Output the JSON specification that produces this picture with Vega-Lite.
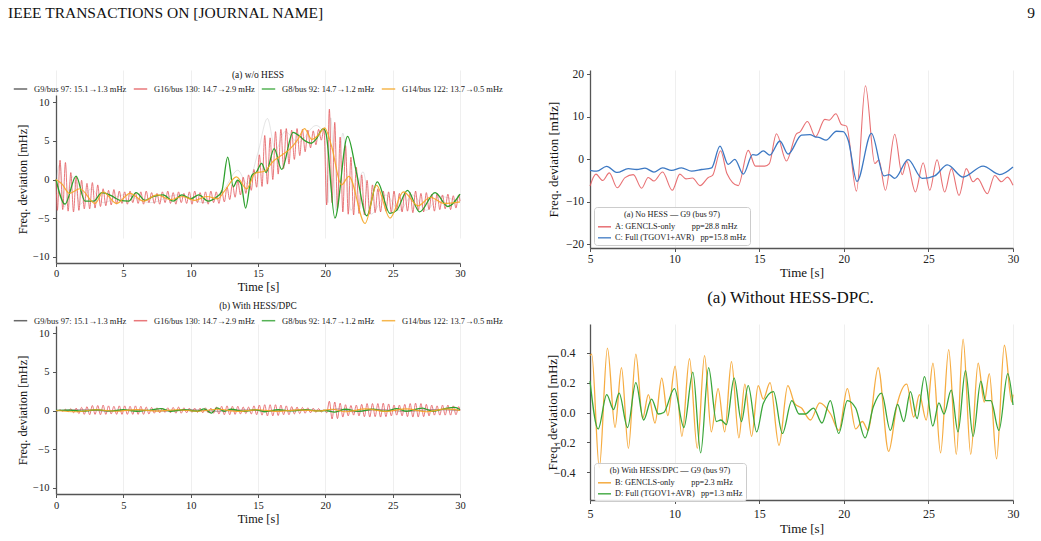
{
  "$schema": "https://vega.github.io/schema/vega-lite/v6.json",
  "background": "white",
  "padding": {"left": 8, "top": 0, "right": 4, "bottom": 4},
  "columns": 2,
  "bounds": "flush",
  "align": "none",
  "spacing": {"row": 61, "column": 130},
  "resolve": {"scale": {"color": "independent"}, "legend": {"color": "independent"}},
  "config": {
    "font": "Liberation Serif",
    "view": {"stroke": null},
    "axis": {"domainColor": "#555555", "domainWidth": 1.3, "tickColor": "#555555", "tickSize": 3.5, "tickWidth": 1, "gridColor": "#ebebeb", "gridWidth": 0.8, "labelColor": "#222222", "titleColor": "#111111", "titleFontWeight": "normal", "labelFont": "Liberation Serif", "titleFont": "Liberation Serif", "labelFlush": false, "labelOverlap": false},
    "legend": {"labelFont": "Liberation Serif", "titleFont": "Liberation Serif", "labelColor": "#222222", "titleColor": "#222222"},
    "title": {"font": "Liberation Serif", "fontWeight": "normal", "color": "#111111", "frame": "group"},
    "line": {"interpolate": "monotone", "clip": true}
  },
  "datasets": {
    "lt_g9": [{"t":0,"v":0},{"t":0.3,"v":2.0},{"t":0.6,"v":-3.6},{"t":1.2,"v":0.4},{"t":1.8,"v":-3.2},{"t":2.6,"v":-1.2},{"t":3.5,"v":-3.0},{"t":5,"v":-2.0},{"t":7,"v":-3.0},{"t":9,"v":-2.0},{"t":11,"v":-3.0},{"t":12.5,"v":-1.2},{"t":13.5,"v":1.2},{"t":14.2,"v":-0.6},{"t":15.0,"v":3.5},{"t":15.7,"v":7.9},{"t":16.3,"v":3.8},{"t":17.0,"v":6.2},{"t":18.0,"v":4.8},{"t":19.3,"v":7.0},{"t":19.9,"v":6.0},{"t":20.2,"v":-3.0},{"t":20.4,"v":8.0},{"t":20.8,"v":-4.0},{"t":21.3,"v":6.0},{"t":21.9,"v":-4.0},{"t":22.8,"v":1.0},{"t":23.4,"v":-4.5},{"t":24.5,"v":-2.0},{"t":25.5,"v":-4.0},{"t":26.5,"v":-2.0},{"t":27.5,"v":-4.0},{"t":28.5,"v":-2.2},{"t":30,"v":-3.0}],
    "lt_g16": [{"t":0,"v":0},{"t":0.1,"v":-4.0},{"t":0.3,"v":2.5},{"t":0.5,"v":-3.9},{"t":0.7,"v":2.2},{"t":0.9,"v":-4.1},{"t":1.1,"v":0.9},{"t":1.3,"v":-4.2},{"t":1.5,"v":0.4},{"t":1.7,"v":-4.0},{"t":1.9,"v":-0.1},{"t":2.1,"v":-3.8},{"t":2.3,"v":-0.5},{"t":2.5,"v":-3.8},{"t":2.7,"v":-0.4},{"t":2.9,"v":-3.7},{"t":3.1,"v":-0.7},{"t":3.3,"v":-3.5},{"t":3.5,"v":-1.2},{"t":3.7,"v":-3.4},{"t":3.9,"v":-1.4},{"t":4.1,"v":-3.3},{"t":4.3,"v":-1.3},{"t":4.5,"v":-3.2},{"t":4.7,"v":-1.5},{"t":4.9,"v":-3.1},{"t":5.1,"v":-1.6},{"t":5.3,"v":-3.2},{"t":5.5,"v":-1.5},{"t":5.7,"v":-3.0},{"t":5.9,"v":-1.7},{"t":6.1,"v":-3.1},{"t":6.3,"v":-1.6},{"t":6.5,"v":-3.2},{"t":6.7,"v":-1.5},{"t":6.9,"v":-3.0},{"t":7.1,"v":-1.7},{"t":7.3,"v":-3.1},{"t":7.5,"v":-1.8},{"t":7.7,"v":-3.2},{"t":7.9,"v":-1.6},{"t":8.1,"v":-3.0},{"t":8.3,"v":-1.5},{"t":8.5,"v":-3.1},{"t":8.7,"v":-1.7},{"t":8.9,"v":-3.2},{"t":9.1,"v":-1.6},{"t":9.3,"v":-3.0},{"t":9.5,"v":-1.8},{"t":9.7,"v":-3.1},{"t":9.9,"v":-1.6},{"t":10.1,"v":-3.2},{"t":10.3,"v":-1.5},{"t":10.5,"v":-3.0},{"t":10.7,"v":-1.7},{"t":10.9,"v":-3.1},{"t":11.1,"v":-1.6},{"t":11.3,"v":-3.2},{"t":11.5,"v":-1.5},{"t":11.7,"v":-3.0},{"t":11.9,"v":-1.6},{"t":12.1,"v":-3.1},{"t":12.3,"v":-1.4},{"t":12.5,"v":-2.9},{"t":12.7,"v":-1.0},{"t":12.9,"v":-2.6},{"t":13.1,"v":-0.6},{"t":13.3,"v":-2.3},{"t":13.5,"v":-0.2},{"t":13.7,"v":-2.0},{"t":13.9,"v":0.3},{"t":14.1,"v":-1.8},{"t":14.3,"v":0.6},{"t":14.5,"v":-1.4},{"t":14.7,"v":1.3},{"t":14.9,"v":-1.0},{"t":15.1,"v":3.2},{"t":15.3,"v":-0.9},{"t":15.5,"v":5.7},{"t":15.7,"v":-0.6},{"t":15.9,"v":5.4},{"t":16.1,"v":0.0},{"t":16.3,"v":6.2},{"t":16.5,"v":0.7},{"t":16.7,"v":6.5},{"t":16.9,"v":1.4},{"t":17.1,"v":6.6},{"t":17.3,"v":2.0},{"t":17.5,"v":6.4},{"t":17.7,"v":2.6},{"t":17.9,"v":6.6},{"t":18.1,"v":3.1},{"t":18.3,"v":6.5},{"t":18.5,"v":3.6},{"t":18.7,"v":6.4},{"t":18.9,"v":4.1},{"t":19.1,"v":6.3},{"t":19.3,"v":4.5},{"t":19.5,"v":6.5},{"t":19.7,"v":5.1},{"t":19.9,"v":6.6},{"t":20.1,"v":-3.3},{"t":20.3,"v":9.1},{"t":20.5,"v":-3.0},{"t":20.7,"v":7.4},{"t":20.9,"v":-3.8},{"t":21.1,"v":5.5},{"t":21.3,"v":-4.2},{"t":21.5,"v":4.4},{"t":21.7,"v":-4.5},{"t":21.9,"v":2.9},{"t":22.1,"v":-4.6},{"t":22.3,"v":1.6},{"t":22.5,"v":-4.4},{"t":22.7,"v":0.6},{"t":22.9,"v":-4.6},{"t":23.1,"v":-0.1},{"t":23.3,"v":-4.5},{"t":23.5,"v":-0.7},{"t":23.7,"v":-4.3},{"t":23.9,"v":-1.2},{"t":24.1,"v":-4.2},{"t":24.3,"v":-1.5},{"t":24.5,"v":-4.1},{"t":24.7,"v":-1.6},{"t":24.9,"v":-4.3},{"t":25.1,"v":-1.5},{"t":25.3,"v":-4.0},{"t":25.5,"v":-1.8},{"t":25.7,"v":-4.2},{"t":25.9,"v":-1.6},{"t":26.1,"v":-4.1},{"t":26.3,"v":-1.7},{"t":26.5,"v":-4.3},{"t":26.7,"v":-1.5},{"t":26.9,"v":-4.0},{"t":27.1,"v":-1.8},{"t":27.3,"v":-4.2},{"t":27.5,"v":-1.7},{"t":27.7,"v":-3.9},{"t":27.9,"v":-1.9},{"t":28.1,"v":-4.1},{"t":28.3,"v":-1.8},{"t":28.5,"v":-3.9},{"t":28.7,"v":-2.0},{"t":28.9,"v":-3.8},{"t":29.1,"v":-1.9},{"t":29.3,"v":-3.9},{"t":29.5,"v":-2.1},{"t":29.7,"v":-3.7},{"t":29.9,"v":-2.0},{"t":30,"v":-2.8}],
    "lt_g8": [{"t":0,"v":0},{"t":0.67,"v":-3.2},{"t":1.49,"v":0.43},{"t":2.15,"v":-2.8},{"t":2.8,"v":-2.8},{"t":3.4,"v":-1.7},{"t":4.1,"v":-2.1},{"t":4.75,"v":-2.7},{"t":5.4,"v":-2.8},{"t":5.95,"v":-1.7},{"t":6.6,"v":-2.7},{"t":7.25,"v":-2.2},{"t":7.95,"v":-2.0},{"t":8.7,"v":-2.8},{"t":9.35,"v":-2.0},{"t":10.0,"v":-2.5},{"t":10.6,"v":-2.0},{"t":11.3,"v":-2.8},{"t":11.9,"v":-2.3},{"t":12.3,"v":-1.6},{"t":12.75,"v":2.9},{"t":13.17,"v":-0.95},{"t":13.47,"v":-0.1},{"t":13.75,"v":-0.6},{"t":14.08,"v":-3.7},{"t":14.53,"v":0.5},{"t":14.9,"v":1.0},{"t":15.27,"v":2.1},{"t":15.6,"v":0.9},{"t":16.2,"v":4.0},{"t":16.76,"v":1.3},{"t":17.6,"v":6.1},{"t":18.1,"v":5.6},{"t":18.5,"v":5.0},{"t":18.95,"v":4.7},{"t":19.3,"v":5.2},{"t":19.85,"v":6.6},{"t":20.05,"v":6.0},{"t":20.71,"v":-5.0},{"t":21.65,"v":5.6},{"t":22.3,"v":1.0},{"t":23.07,"v":-4.7},{"t":23.86,"v":-0.3},{"t":24.8,"v":-4.4},{"t":25.3,"v":-4.0},{"t":26.1,"v":-1.4},{"t":27.0,"v":-4.2},{"t":28.15,"v":-1.7},{"t":29.1,"v":-3.5},{"t":30,"v":-1.9}],
    "lt_g14": [{"t":0,"v":0},{"t":0.45,"v":-0.6},{"t":1.0,"v":-1.8},{"t":1.78,"v":-1.2},{"t":2.9,"v":-3.1},{"t":3.5,"v":-1.6},{"t":4.5,"v":-3.1},{"t":5.5,"v":-1.8},{"t":6.5,"v":-2.8},{"t":7.5,"v":-2.0},{"t":8.5,"v":-2.6},{"t":9.4,"v":-2.2},{"t":10.3,"v":-2.7},{"t":11.2,"v":-2.2},{"t":12.0,"v":-2.5},{"t":12.55,"v":-1.4},{"t":13.4,"v":0.35},{"t":14.16,"v":-1.2},{"t":14.78,"v":0.8},{"t":15.5,"v":1.1},{"t":16.1,"v":2.3},{"t":16.8,"v":3.2},{"t":17.4,"v":4.0},{"t":18.0,"v":5.3},{"t":18.45,"v":6.6},{"t":19.0,"v":5.2},{"t":19.5,"v":5.8},{"t":19.95,"v":6.7},{"t":20.45,"v":4.4},{"t":21.2,"v":-0.7},{"t":21.75,"v":0.4},{"t":22.95,"v":-5.7},{"t":23.8,"v":-0.75},{"t":24.8,"v":-5.0},{"t":25.8,"v":-1.6},{"t":26.9,"v":-3.4},{"t":27.8,"v":-2.3},{"t":28.8,"v":-3.1},{"t":30,"v":-2.9}],
    "lb_g9": [{"t":0,"v":0},{"t":2,"v":0.1},{"t":4,"v":-0.1},{"t":6,"v":0.08},{"t":8,"v":-0.08},{"t":10,"v":0.1},{"t":12,"v":-0.1},{"t":14,"v":0.08},{"t":16,"v":-0.1},{"t":18,"v":0.08},{"t":20,"v":0},{"t":21,"v":0.2},{"t":22,"v":-0.16},{"t":24,"v":0.12},{"t":26,"v":-0.12},{"t":28,"v":0.12},{"t":30,"v":0}],
    "lb_g16": [{"t":0,"v":0},{"t":0.1,"v":-0.06},{"t":0.3,"v":0.1},{"t":0.5,"v":-0.1},{"t":0.7,"v":0.16},{"t":0.9,"v":-0.16},{"t":1.1,"v":0.24},{"t":1.3,"v":-0.3},{"t":1.5,"v":0.3},{"t":1.7,"v":-0.4},{"t":1.9,"v":0.4},{"t":2.1,"v":-0.5},{"t":2.3,"v":0.5},{"t":2.5,"v":-0.55},{"t":2.7,"v":0.65},{"t":2.9,"v":-0.5},{"t":3.1,"v":0.65},{"t":3.3,"v":-0.55},{"t":3.5,"v":0.7},{"t":3.7,"v":-0.5},{"t":3.9,"v":0.6},{"t":4.1,"v":-0.45},{"t":4.3,"v":0.55},{"t":4.5,"v":-0.5},{"t":4.7,"v":0.6},{"t":4.9,"v":-0.5},{"t":5.1,"v":0.6},{"t":5.3,"v":-0.5},{"t":5.5,"v":0.55},{"t":5.7,"v":-0.5},{"t":5.9,"v":0.6},{"t":6.1,"v":-0.5},{"t":6.3,"v":0.55},{"t":6.5,"v":-0.5},{"t":6.7,"v":0.45},{"t":6.9,"v":-0.45},{"t":7.1,"v":0.4},{"t":7.3,"v":-0.35},{"t":7.5,"v":0.35},{"t":7.7,"v":-0.3},{"t":7.9,"v":0.3},{"t":8.1,"v":-0.25},{"t":8.3,"v":0.35},{"t":8.5,"v":-0.3},{"t":8.7,"v":0.4},{"t":8.9,"v":-0.35},{"t":9.1,"v":0.45},{"t":9.3,"v":-0.35},{"t":9.5,"v":0.35},{"t":9.7,"v":-0.3},{"t":9.9,"v":0.3},{"t":10.1,"v":-0.25},{"t":10.3,"v":0.3},{"t":10.5,"v":-0.25},{"t":10.7,"v":0.3},{"t":10.9,"v":-0.3},{"t":11.1,"v":0.35},{"t":11.3,"v":-0.3},{"t":11.5,"v":0.3},{"t":11.7,"v":-0.35},{"t":11.9,"v":0.45},{"t":12.1,"v":-0.45},{"t":12.3,"v":0.55},{"t":12.5,"v":-0.55},{"t":12.7,"v":0.6},{"t":12.9,"v":-0.55},{"t":13.1,"v":0.55},{"t":13.3,"v":-0.5},{"t":13.5,"v":0.55},{"t":13.7,"v":-0.45},{"t":13.9,"v":0.45},{"t":14.1,"v":-0.4},{"t":14.3,"v":0.45},{"t":14.5,"v":-0.45},{"t":14.7,"v":0.6},{"t":14.9,"v":-0.55},{"t":15.1,"v":0.7},{"t":15.3,"v":-0.6},{"t":15.5,"v":0.75},{"t":15.7,"v":-0.7},{"t":15.9,"v":0.75},{"t":16.1,"v":-0.7},{"t":16.3,"v":0.75},{"t":16.5,"v":-0.65},{"t":16.7,"v":0.7},{"t":16.9,"v":-0.55},{"t":17.1,"v":0.6},{"t":17.3,"v":-0.55},{"t":17.5,"v":0.5},{"t":17.7,"v":-0.45},{"t":17.9,"v":0.45},{"t":18.1,"v":-0.4},{"t":18.3,"v":0.4},{"t":18.5,"v":-0.35},{"t":18.7,"v":0.35},{"t":18.9,"v":-0.3},{"t":19.1,"v":0.3},{"t":19.3,"v":-0.25},{"t":19.5,"v":0.25},{"t":19.7,"v":-0.2},{"t":19.9,"v":0.1},{"t":20.1,"v":-0.3},{"t":20.3,"v":1.2},{"t":20.5,"v":-1.1},{"t":20.7,"v":1.1},{"t":20.9,"v":-1.05},{"t":21.1,"v":0.95},{"t":21.3,"v":-0.85},{"t":21.5,"v":0.75},{"t":21.7,"v":-0.7},{"t":21.9,"v":0.65},{"t":22.1,"v":-0.6},{"t":22.3,"v":0.7},{"t":22.5,"v":-0.7},{"t":22.7,"v":0.8},{"t":22.9,"v":-0.8},{"t":23.1,"v":0.9},{"t":23.3,"v":-0.85},{"t":23.5,"v":0.9},{"t":23.7,"v":-0.8},{"t":23.9,"v":0.9},{"t":24.1,"v":-0.85},{"t":24.3,"v":0.95},{"t":24.5,"v":-0.8},{"t":24.7,"v":0.85},{"t":24.9,"v":-0.7},{"t":25.1,"v":0.7},{"t":25.3,"v":-0.6},{"t":25.5,"v":0.7},{"t":25.7,"v":-0.7},{"t":25.9,"v":0.8},{"t":26.1,"v":-0.8},{"t":26.3,"v":0.9},{"t":26.5,"v":-0.85},{"t":26.7,"v":0.95},{"t":26.9,"v":-0.85},{"t":27.1,"v":0.9},{"t":27.3,"v":-0.8},{"t":27.5,"v":0.8},{"t":27.7,"v":-0.7},{"t":27.9,"v":0.7},{"t":28.1,"v":-0.6},{"t":28.3,"v":0.6},{"t":28.5,"v":-0.6},{"t":28.7,"v":0.7},{"t":28.9,"v":-0.6},{"t":29.1,"v":0.7},{"t":29.3,"v":-0.6},{"t":29.5,"v":0.6},{"t":29.7,"v":-0.55},{"t":29.9,"v":0.5},{"t":30,"v":0}],
    "lb_g8": [{"t":0,"v":0},{"t":1,"v":0.04},{"t":2,"v":-0.1},{"t":3,"v":0.1},{"t":4,"v":-0.06},{"t":5,"v":0.1},{"t":6,"v":-0.1},{"t":7,"v":0.06},{"t":7.8,"v":0.24},{"t":8.5,"v":-0.1},{"t":9.5,"v":0.1},{"t":10.5,"v":-0.1},{"t":11.0,"v":0.2},{"t":11.55,"v":-0.35},{"t":11.95,"v":0.35},{"t":12.5,"v":-0.1},{"t":13,"v":0.16},{"t":14,"v":-0.1},{"t":14.8,"v":0.1},{"t":15.5,"v":-0.16},{"t":16.5,"v":0.1},{"t":17.5,"v":-0.06},{"t":18.5,"v":0.1},{"t":19.5,"v":-0.06},{"t":20,"v":0},{"t":20.7,"v":-0.2},{"t":21.5,"v":0.16},{"t":22.5,"v":-0.1},{"t":23.5,"v":0.16},{"t":24.5,"v":-0.1},{"t":25.3,"v":0.24},{"t":26,"v":-0.1},{"t":27.2,"v":0.3},{"t":28,"v":-0.1},{"t":28.8,"v":0.2},{"t":29.6,"v":0.4},{"t":30,"v":0.1}],
    "lb_g14": [{"t":0,"v":0},{"t":1.5,"v":-0.16},{"t":3,"v":0.1},{"t":4.5,"v":-0.1},{"t":6,"v":0.12},{"t":7.5,"v":-0.08},{"t":9,"v":0.1},{"t":10.5,"v":-0.1},{"t":12,"v":0.16},{"t":13.5,"v":-0.12},{"t":15,"v":0.1},{"t":16.5,"v":-0.12},{"t":18,"v":0.08},{"t":19.5,"v":-0.06},{"t":20.5,"v":0.16},{"t":21.5,"v":-0.16},{"t":23,"v":0.2},{"t":24.5,"v":-0.12},{"t":26,"v":0.2},{"t":27.5,"v":-0.16},{"t":29,"v":0.2},{"t":30,"v":0}],
    "rt_a": [{"t":5.0,"v":-6.3},{"t":5.35,"v":-3.5},{"t":5.75,"v":-5.0},{"t":6.14,"v":-3.2},{"t":6.61,"v":-6.7},{"t":7.07,"v":-4.3},{"t":7.56,"v":-3.6},{"t":8.05,"v":-6.8},{"t":8.44,"v":-4.3},{"t":8.78,"v":-5.1},{"t":9.29,"v":-3.0},{"t":9.86,"v":-7.3},{"t":10.31,"v":-3.5},{"t":10.67,"v":-4.6},{"t":11.06,"v":-4.4},{"t":11.5,"v":-6.2},{"t":11.99,"v":-4.3},{"t":12.24,"v":-3.8},{"t":12.72,"v":2.0},{"t":13.1,"v":-3.4},{"t":13.76,"v":-6.2},{"t":14.35,"v":2.1},{"t":14.78,"v":-1.6},{"t":15.33,"v":-1.6},{"t":15.6,"v":-1.0},{"t":16.02,"v":6.0},{"t":16.61,"v":-0.4},{"t":17.2,"v":6.0},{"t":17.4,"v":6.4},{"t":17.85,"v":8.9},{"t":18.33,"v":5.3},{"t":18.88,"v":9.4},{"t":19.13,"v":9.2},{"t":19.53,"v":10.7},{"t":19.86,"v":8.2},{"t":20.16,"v":7.8},{"t":20.75,"v":-7.5},{"t":21.28,"v":17.3},{"t":21.83,"v":-1.0},{"t":22.07,"v":-0.2},{"t":22.46,"v":-7.3},{"t":23.01,"v":5.9},{"t":23.45,"v":-3.6},{"t":23.72,"v":-0.5},{"t":24.23,"v":-7.7},{"t":24.69,"v":-0.8},{"t":25.08,"v":-7.3},{"t":25.51,"v":-0.1},{"t":25.96,"v":-7.7},{"t":26.36,"v":-2.2},{"t":26.81,"v":-8.5},{"t":27.24,"v":-2.2},{"t":27.64,"v":-5.3},{"t":27.9,"v":-4.5},{"t":28.48,"v":-8.1},{"t":28.92,"v":-3.8},{"t":29.31,"v":-5.3},{"t":29.67,"v":-4.2},{"t":30.0,"v":-6.1}],
    "rt_c": [{"t":5.0,"v":-2.6},{"t":5.4,"v":-2.8},{"t":5.98,"v":-1.65},{"t":6.61,"v":-3.1},{"t":7.26,"v":-2.2},{"t":7.76,"v":-2.4},{"t":8.25,"v":-2.1},{"t":8.78,"v":-3.0},{"t":9.29,"v":-2.0},{"t":9.82,"v":-2.6},{"t":10.41,"v":-2.0},{"t":11.0,"v":-2.8},{"t":11.6,"v":-2.4},{"t":12.19,"v":-2.0},{"t":12.68,"v":3.1},{"t":13.17,"v":-1.2},{"t":13.56,"v":0.0},{"t":14.06,"v":-3.5},{"t":14.61,"v":1.1},{"t":14.84,"v":1.0},{"t":15.24,"v":2.0},{"t":15.63,"v":1.0},{"t":16.22,"v":4.3},{"t":16.71,"v":1.2},{"t":17.5,"v":5.7},{"t":18.0,"v":5.8},{"t":18.3,"v":5.3},{"t":18.58,"v":5.1},{"t":18.95,"v":4.5},{"t":19.57,"v":6.6},{"t":19.96,"v":6.5},{"t":20.26,"v":4.5},{"t":20.78,"v":-5.2},{"t":21.63,"v":6.1},{"t":22.38,"v":-3.9},{"t":22.68,"v":-3.6},{"t":23.01,"v":-4.5},{"t":23.8,"v":-0.1},{"t":24.63,"v":-4.5},{"t":25.37,"v":-3.9},{"t":26.12,"v":-1.3},{"t":27.05,"v":-4.2},{"t":28.23,"v":-1.6},{"t":29.21,"v":-3.6},{"t":30.0,"v":-1.8}],
    "rb_b": [{"t":5.0,"v":0.38},{"t":5.1,"v":0.39},{"t":5.55,"v":-0.37},{"t":6.03,"v":0.43},{"t":6.48,"v":-0.1},{"t":6.86,"v":0.3},{"t":7.27,"v":-0.24},{"t":7.71,"v":0.39},{"t":8.11,"v":-0.04},{"t":8.45,"v":0.12},{"t":8.84,"v":-0.07},{"t":9.24,"v":0.23},{"t":9.6,"v":-0.02},{"t":10.03,"v":0.31},{"t":10.43,"v":-0.16},{"t":10.88,"v":0.36},{"t":11.34,"v":-0.24},{"t":11.77,"v":0.38},{"t":12.17,"v":-0.13},{"t":12.57,"v":0.16},{"t":12.96,"v":-0.13},{"t":13.36,"v":0.34},{"t":13.8,"v":-0.17},{"t":14.15,"v":0.19},{"t":14.55,"v":-0.16},{"t":14.94,"v":0.18},{"t":15.24,"v":0.09},{"t":15.64,"v":0.2},{"t":16.17,"v":-0.22},{"t":16.69,"v":0.18},{"t":17.1,"v":0.06},{"t":17.5,"v":0.03},{"t":18.03,"v":-0.05},{"t":18.58,"v":0.065},{"t":19.22,"v":-0.01},{"t":19.71,"v":-0.12},{"t":20.21,"v":0.16},{"t":20.7,"v":-0.11},{"t":21.1,"v":-0.06},{"t":21.44,"v":-0.12},{"t":22.03,"v":0.3},{"t":22.65,"v":-0.26},{"t":23.14,"v":0.05},{"t":23.72,"v":0.19},{"t":24.13,"v":-0.03},{"t":24.47,"v":0.12},{"t":24.87,"v":-0.05},{"t":25.27,"v":0.33},{"t":25.72,"v":-0.27},{"t":26.2,"v":0.42},{"t":26.65,"v":-0.28},{"t":27.05,"v":0.49},{"t":27.5,"v":-0.28},{"t":27.94,"v":0.33},{"t":28.3,"v":0.07},{"t":28.6,"v":0.26},{"t":29.03,"v":-0.31},{"t":29.49,"v":0.45},{"t":29.93,"v":0.07},{"t":30.0,"v":0.12}],
    "rb_d": [{"t":5.0,"v":0.21},{"t":5.48,"v":-0.11},{"t":5.99,"v":0.12},{"t":6.39,"v":0.02},{"t":6.72,"v":0.13},{"t":7.22,"v":-0.1},{"t":7.71,"v":0.2},{"t":8.17,"v":-0.05},{"t":8.64,"v":0.09},{"t":9.04,"v":-0.01},{"t":9.36,"v":0.0},{"t":9.99,"v":0.16},{"t":10.55,"v":-0.1},{"t":11.08,"v":0.27},{"t":11.54,"v":-0.27},{"t":12.01,"v":0.3},{"t":12.47,"v":-0.06},{"t":12.73,"v":-0.05},{"t":13.06,"v":-0.08},{"t":13.52,"v":0.23},{"t":13.95,"v":-0.06},{"t":14.35,"v":0.18},{"t":14.85,"v":-0.13},{"t":15.24,"v":0.06},{"t":15.84,"v":0.14},{"t":16.37,"v":-0.14},{"t":16.93,"v":0.08},{"t":17.36,"v":-0.01},{"t":17.72,"v":-0.01},{"t":18.21,"v":0.03},{"t":18.71,"v":-0.07},{"t":19.2,"v":0.08},{"t":19.7,"v":-0.14},{"t":20.21,"v":0.08},{"t":20.7,"v":0.03},{"t":21.26,"v":-0.17},{"t":21.75,"v":0.04},{"t":22.23,"v":0.13},{"t":22.75,"v":-0.12},{"t":23.18,"v":0.055},{"t":23.54,"v":-0.06},{"t":23.94,"v":0.14},{"t":24.33,"v":-0.04},{"t":24.77,"v":0.24},{"t":25.26,"v":-0.09},{"t":25.62,"v":0.065},{"t":25.92,"v":-0.01},{"t":26.35,"v":0.15},{"t":26.75,"v":-0.13},{"t":27.19,"v":0.28},{"t":27.64,"v":-0.16},{"t":28.1,"v":0.21},{"t":28.38,"v":0.08},{"t":28.69,"v":0.08},{"t":29.17,"v":-0.12},{"t":29.69,"v":0.26},{"t":30.0,"v":0.05}]
  },
  "concat": [
    {
      "width": 404, "height": 9,
      "data": {"values": []},
      "mark": {"type": "text"},
      "title": {"text": "IEEE TRANSACTIONS ON [JOURNAL NAME]", "orient": "bottom", "anchor": "start", "offset": -3, "dx": -48, "fontSize": 15.5}
    },
    {
      "width": 423, "height": 9,
      "data": {"values": []},
      "mark": {"type": "text"},
      "title": {"text": "9", "orient": "bottom", "anchor": "end", "offset": -3, "dx": 22, "fontSize": 15.5}
    },
    {
      "width": 404, "height": 193,
      "title": {"text": "(a) w/o HESS", "fontSize": 9.4, "offset": -10},
      "layer": [
        {"mark": {"type": "rule", "strokeDash": [3, 2], "color": "#a0a0a0", "strokeWidth": 0.8}, "encoding": {"y": {"datum": 0, "type": "quantitative"}}},
        {
          "data": {"name": "lt_g9"},
          "mark": {"type": "line", "color": "#8a8a8a", "opacity": 0.22, "strokeWidth": 1},
          "encoding": {
            "x": {"field": "t", "type": "quantitative", "scale": {"domain": [0, 30], "nice": false, "zero": false}, "axis": {"title": "Time [s]", "values": [0, 5, 10, 15, 20, 25, 30], "format": "d", "labelFontSize": 10.5, "titleFontSize": 12.3, "labelPadding": 2, "titlePadding": 1.5}},
            "y": {"field": "v", "type": "quantitative", "scale": {"domain": [-10.82, 10.95], "range": [193, 25], "nice": false, "zero": false}, "axis": {"title": "Freq. deviation [mHz]", "values": [-10, -5, 0, 5, 10], "format": "d", "labelFontSize": 10.5, "titleFontSize": 12.3, "labelPadding": 3.5, "titlePadding": 3}}
          }
        },
        {
          "data": {"name": "lt_g16"},
          "mark": {"type": "line", "strokeWidth": 1, "opacity": 0.8},
          "encoding": {
            "x": {"field": "t", "type": "quantitative", "title": "Time [s]"},
            "y": {"field": "v", "type": "quantitative", "title": "Freq. deviation [mHz]"},
            "color": {"datum": "G16/bus 130: 14.7→2.9 mHz", "type": "nominal",
              "scale": {"domain": ["G9/bus 97: 15.1→1.3 mHz", "G16/bus 130: 14.7→2.9 mHz", "G8/bus 92: 14.7→1.2 mHz", "G14/bus 122: 13.7→0.5 mHz"], "range": ["#444444", "#e4575b", "#2ca02c", "#f5a623"]},
              "legend": {"orient": "none", "legendX": -43, "legendY": 11.5, "direction": "horizontal", "columns": 4, "title": null, "symbolType": "stroke", "symbolSize": 180, "symbolStrokeWidth": 1.5, "labelFontSize": 8.5, "labelOffset": 6, "columnPadding": 3, "padding": 0}}
          }
        },
        {
          "data": {"name": "lt_g8"},
          "mark": {"type": "line", "strokeWidth": 1.3},
          "encoding": {
            "x": {"field": "t", "type": "quantitative", "title": "Time [s]"},
            "y": {"field": "v", "type": "quantitative", "title": "Freq. deviation [mHz]"},
            "color": {"datum": "G8/bus 92: 14.7→1.2 mHz", "type": "nominal"}
          }
        },
        {
          "data": {"name": "lt_g14"},
          "mark": {"type": "line", "strokeWidth": 1.2, "opacity": 0.9},
          "encoding": {
            "x": {"field": "t", "type": "quantitative", "title": "Time [s]"},
            "y": {"field": "v", "type": "quantitative", "title": "Freq. deviation [mHz]"},
            "color": {"datum": "G14/bus 122: 13.7→0.5 mHz", "type": "nominal"}
          }
        }
      ]
    },
    {
      "width": 423, "height": 178,
      "layer": [
        {"mark": {"type": "rule", "strokeDash": [3, 2], "color": "#a0a0a0", "strokeWidth": 0.8}, "encoding": {"y": {"datum": 0, "type": "quantitative"}}},
        {
          "data": {"name": "rt_a"},
          "mark": {"type": "line", "strokeWidth": 1.1, "opacity": 0.85},
          "encoding": {
            "x": {"field": "t", "type": "quantitative", "scale": {"domain": [5, 30], "nice": false, "zero": false}, "axis": {"title": "Time [s]", "values": [5, 10, 15, 20, 25, 30], "format": "d", "labelFontSize": 11.5, "titleFontSize": 13, "labelPadding": 1.5, "titlePadding": 2}},
            "y": {"field": "v", "type": "quantitative", "scale": {"domain": [-20.87, 21.01], "nice": false, "zero": false}, "axis": {"title": "Freq. deviation [mHz]", "values": [-20, -10, 0, 10, 20], "format": "d", "labelFontSize": 11.5, "titleFontSize": 13, "labelPadding": 3, "titlePadding": 5}},
            "color": {"datum": "A: GENCLS-only\u00a0\u00a0\u00a0\u00a0\u00a0\u00a0\u00a0\u00a0pp=28.8 mHz", "type": "nominal",
              "scale": {"domain": ["A: GENCLS-only\u00a0\u00a0\u00a0\u00a0\u00a0\u00a0\u00a0\u00a0pp=28.8 mHz", "C: Full (TGOV1+AVR)\u00a0\u00a0\u00a0pp=15.8 mHz"], "range": ["#e4575b", "#3c78c3"]},
              "legend": {"orient": "none", "legendX": 4, "legendY": 137, "direction": "vertical", "title": "(a) No HESS — G9 (bus 97)", "titleFontSize": 8.3, "titleFontWeight": "normal", "titleAnchor": "middle", "titleAlign": "center", "titlePadding": 1, "symbolType": "stroke", "symbolSize": 169, "symbolStrokeWidth": 1.5, "labelFontSize": 8.3, "labelOffset": 3, "rowPadding": -4, "padding": 3, "fillColor": "rgba(255,255,255,0.85)", "strokeColor": "#cccccc", "cornerRadius": 3, "labelLimit": 0}}
          }
        },
        {
          "data": {"name": "rt_c"},
          "mark": {"type": "line", "strokeWidth": 1.3},
          "encoding": {
            "x": {"field": "t", "type": "quantitative", "title": "Time [s]"},
            "y": {"field": "v", "type": "quantitative", "title": "Freq. deviation [mHz]"},
            "color": {"datum": "C: Full (TGOV1+AVR)\u00a0\u00a0\u00a0pp=15.8 mHz", "type": "nominal"}
          }
        }
      ]
    },
    {
      "width": 404, "height": 170,
      "title": {"text": "(b) With HESS/DPC", "fontSize": 9.4, "offset": 2},
      "layer": [
        {"mark": {"type": "rule", "strokeDash": [3, 2], "color": "#a0a0a0", "strokeWidth": 0.8}, "encoding": {"y": {"datum": 0, "type": "quantitative"}}},
        {
          "data": {"name": "lb_g9"},
          "mark": {"type": "line", "color": "#555555", "opacity": 0.6, "strokeWidth": 1},
          "encoding": {
            "x": {"field": "t", "type": "quantitative", "scale": {"domain": [0, 30], "nice": false, "zero": false}, "axis": {"title": "Time [s]", "values": [0, 5, 10, 15, 20, 25, 30], "format": "d", "labelFontSize": 10.5, "titleFontSize": 12.3, "labelPadding": 2.5, "titlePadding": 2}},
            "y": {"field": "v", "type": "quantitative", "scale": {"domain": [-10.82, 10.95], "range": [170, 2], "nice": false, "zero": false}, "axis": {"title": "Freq. deviation [mHz]", "values": [-10, -5, 0, 5, 10], "format": "d", "labelFontSize": 10.5, "titleFontSize": 12.3, "labelPadding": 3.5, "titlePadding": 3}}
          }
        },
        {
          "data": {"name": "lb_g16"},
          "mark": {"type": "line", "strokeWidth": 1, "opacity": 0.8},
          "encoding": {
            "x": {"field": "t", "type": "quantitative", "title": "Time [s]"},
            "y": {"field": "v", "type": "quantitative", "title": "Freq. deviation [mHz]"},
            "color": {"datum": "G16/bus 130: 14.7→2.9 mHz", "type": "nominal",
              "scale": {"domain": ["G9/bus 97: 15.1→1.3 mHz", "G16/bus 130: 14.7→2.9 mHz", "G8/bus 92: 14.7→1.2 mHz", "G14/bus 122: 13.7→0.5 mHz"], "range": ["#444444", "#e4575b", "#2ca02c", "#f5a623"]},
              "legend": {"orient": "none", "legendX": -43, "legendY": -10.8, "direction": "horizontal", "columns": 4, "title": null, "symbolType": "stroke", "symbolSize": 180, "symbolStrokeWidth": 1.5, "labelFontSize": 8.5, "labelOffset": 6, "columnPadding": 3, "padding": 0}}
          }
        },
        {
          "data": {"name": "lb_g8"},
          "mark": {"type": "line", "strokeWidth": 1.3},
          "encoding": {
            "x": {"field": "t", "type": "quantitative", "title": "Time [s]"},
            "y": {"field": "v", "type": "quantitative", "title": "Freq. deviation [mHz]"},
            "color": {"datum": "G8/bus 92: 14.7→1.2 mHz", "type": "nominal"}
          }
        },
        {
          "data": {"name": "lb_g14"},
          "mark": {"type": "line", "strokeWidth": 1.2, "opacity": 0.9},
          "encoding": {
            "x": {"field": "t", "type": "quantitative", "title": "Time [s]"},
            "y": {"field": "v", "type": "quantitative", "title": "Freq. deviation [mHz]"},
            "color": {"datum": "G14/bus 122: 13.7→0.5 mHz", "type": "nominal"}
          }
        }
      ]
    },
    {
      "width": 423, "height": 176,
      "title": {"text": "(a) Without HESS-DPC.", "fontSize": 17, "offset": 17, "dx": -11},
      "layer": [
        {"mark": {"type": "rule", "strokeDash": [3, 2], "color": "#a0a0a0", "strokeWidth": 0.8}, "encoding": {"y": {"datum": 0, "type": "quantitative"}}},
        {
          "data": {"name": "rb_b"},
          "mark": {"type": "line", "strokeWidth": 1.3, "opacity": 0.9},
          "encoding": {
            "x": {"field": "t", "type": "quantitative", "scale": {"domain": [5, 30], "nice": false, "zero": false}, "axis": {"title": "Time [s]", "values": [5, 10, 15, 20, 25, 30], "format": "d", "labelFontSize": 12, "titleFontSize": 13, "labelPadding": 5, "titlePadding": 3}},
            "y": {"field": "v", "type": "quantitative", "scale": {"domain": [-0.585, 0.592], "nice": false, "zero": false}, "axis": {"title": "Freq. deviation [mHz]", "values": [-0.4, -0.2, 0, 0.2, 0.4], "format": ".1f", "labelFontSize": 12, "titleFontSize": 13, "labelPadding": 11.5, "titlePadding": -6}},
            "color": {"datum": "B: GENCLS-only\u00a0\u00a0\u00a0\u00a0\u00a0\u00a0\u00a0\u00a0pp=2.3 mHz", "type": "nominal",
              "scale": {"domain": ["B: GENCLS-only\u00a0\u00a0\u00a0\u00a0\u00a0\u00a0\u00a0\u00a0pp=2.3 mHz", "D: Full (TGOV1+AVR)\u00a0\u00a0\u00a0pp=1.3 mHz"], "range": ["#f5a32c", "#3aa63a"]},
              "legend": {"orient": "none", "legendX": 4, "legendY": 139, "direction": "vertical", "title": "(b) With HESS/DPC — G9 (bus 97)", "titleFontSize": 8.3, "titleFontWeight": "normal", "titleAnchor": "middle", "titleAlign": "center", "titlePadding": 1, "symbolType": "stroke", "symbolSize": 169, "symbolStrokeWidth": 1.5, "labelFontSize": 8.3, "labelOffset": 3, "rowPadding": -4, "padding": 3, "fillColor": "rgba(255,255,255,0.85)", "strokeColor": "#cccccc", "cornerRadius": 3, "labelLimit": 0}}
          }
        },
        {
          "data": {"name": "rb_d"},
          "mark": {"type": "line", "strokeWidth": 1.3},
          "encoding": {
            "x": {"field": "t", "type": "quantitative", "title": "Time [s]"},
            "y": {"field": "v", "type": "quantitative", "title": "Freq. deviation [mHz]"},
            "color": {"datum": "D: Full (TGOV1+AVR)\u00a0\u00a0\u00a0pp=1.3 mHz", "type": "nominal"}
          }
        }
      ]
    }
  ]
}
